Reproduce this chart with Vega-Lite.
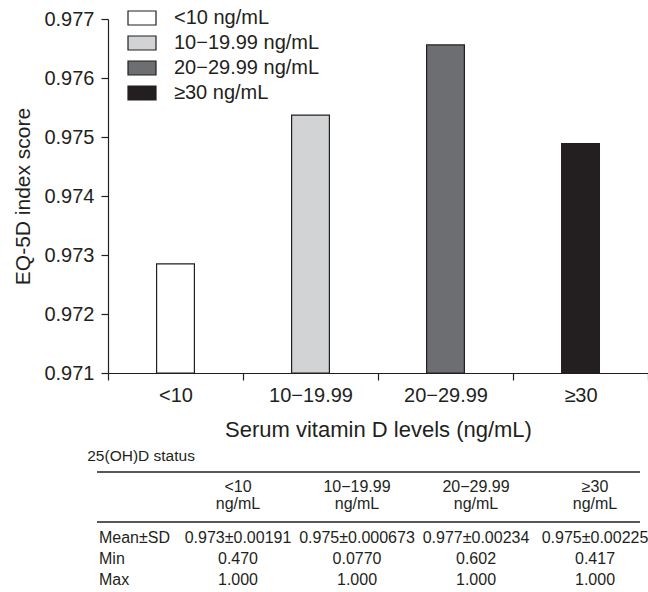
{
  "$schema": "https://vega.github.io/schema/vega-lite/v6.json",
  "padding": {"left": 12, "top": 3, "right": 0, "bottom": 0},
  "config": {
    "font": "Liberation Sans",
    "view": {"stroke": null},
    "axis": {"grid": false, "domainColor": "#231f20", "tickColor": "#231f20", "labelColor": "#231f20", "titleColor": "#231f20", "domainWidth": 1.2, "tickWidth": 1.2, "tickSize": 7, "labelFont": "Liberation Sans", "titleFont": "Liberation Sans", "labelFontSize": 20, "titleFontSize": 21, "titleFontWeight": "normal"},
    "text": {"font": "Liberation Sans", "color": "#231f20"}
  },
  "datasets": {
    "bars": [
      {"group": "<10", "score": 0.97285},
      {"group": "10−19.99", "score": 0.97537},
      {"group": "20−29.99", "score": 0.97656},
      {"group": "≥30", "score": 0.97489}
    ],
    "table": [
      {"stat": "Mean±SD", "group": "<10", "value": "0.973±0.00191"},
      {"stat": "Mean±SD", "group": "10−19.99", "value": "0.975±0.000673"},
      {"stat": "Mean±SD", "group": "20−29.99", "value": "0.977±0.00234"},
      {"stat": "Mean±SD", "group": "≥30", "value": "0.975±0.00225"},
      {"stat": "Min", "group": "<10", "value": "0.470"},
      {"stat": "Min", "group": "10−19.99", "value": "0.0770"},
      {"stat": "Min", "group": "20−29.99", "value": "0.602"},
      {"stat": "Min", "group": "≥30", "value": "0.417"},
      {"stat": "Max", "group": "<10", "value": "1.000"},
      {"stat": "Max", "group": "10−19.99", "value": "1.000"},
      {"stat": "Max", "group": "20−29.99", "value": "1.000"},
      {"stat": "Max", "group": "≥30", "value": "1.000"}
    ],
    "stats": [{"stat": "Mean±SD"}, {"stat": "Min"}, {"stat": "Max"}]
  },
  "spacing": 8,
  "vconcat": [
    {
      "width": 540,
      "height": 354,
      "data": {"name": "bars"},
      "mark": {"type": "bar", "width": {"band": 0.28}, "stroke": "#231f20", "strokeWidth": 1.2},
      "encoding": {
        "x": {
          "field": "group", "type": "nominal", "sort": null,
          "scale": {"domain": ["<10", "10−19.99", "20−29.99", "≥30"], "paddingInner": 0, "paddingOuter": 0},
          "axis": {"title": "Serum vitamin D levels (ng/mL)", "titleFontSize": 22, "labelAngle": 0, "tickBand": "extent", "labelPadding": 5, "titlePadding": 14}
        },
        "y": {
          "field": "score", "type": "quantitative",
          "scale": {"domain": [0.971, 0.977], "zero": false, "nice": false},
          "axis": {"title": "EQ-5D index score", "values": [0.971, 0.972, 0.973, 0.974, 0.975, 0.976, 0.977], "format": ".3f", "labelPadding": 7, "titlePadding": 10}
        },
        "y2": {"datum": 0.971},
        "fill": {
          "field": "group", "type": "nominal", "sort": null,
          "scale": {"domain": ["<10", "10−19.99", "20−29.99", "≥30"], "range": ["#ffffff", "#d1d3d4", "#6d6e71", "#231f20"]},
          "legend": {
            "orient": "none", "legendX": 19, "legendY": -16, "title": null,
            "labelExpr": "datum.label + ' ng/mL'",
            "symbolType": "M-1,-0.5H1V0.5H-1Z", "symbolSize": 784,
            "symbolStrokeColor": "#231f20", "symbolStrokeWidth": 1.2, "symbolOpacity": 1,
            "labelFontSize": 20, "labelFont": "Liberation Sans", "labelColor": "#231f20", "labelOffset": 17,
            "rowPadding": -2, "padding": 0, "offset": 0
          }
        }
      }
    },
    {
      "width": 498,
      "height": 105,
      "title": {"text": "25(OH)D status", "anchor": "start", "fontSize": 15.5, "fontWeight": "normal", "font": "Liberation Sans", "color": "#231f20", "dx": -9, "offset": 7},
      "layer": [
        {
          "data": {"values": [{}]},
          "mark": {"type": "rule", "yOffset": -45, "xOffset": -22, "x2Offset": 45, "strokeWidth": 1.5, "color": "#231f20"},
          "encoding": {
            "x": {"datum": "stat", "type": "nominal", "scale": {"type": "point", "domain": ["stat", "<10", "10−19.99", "20−29.99", "≥30"], "padding": 0.0924}, "axis": null},
            "x2": {"datum": "≥30"},
            "y": {"datum": "header", "type": "nominal", "scale": {"type": "point", "domain": ["header", "Mean±SD", "Min", "Max"], "padding": 1.125, "align": 1}, "axis": null}
          }
        },
        {
          "data": {"values": [{}]},
          "mark": {"type": "rule", "yOffset": 5, "xOffset": -22, "x2Offset": 45, "strokeWidth": 1.5, "color": "#231f20"},
          "encoding": {
            "x": {"datum": "stat", "type": "nominal"},
            "x2": {"datum": "≥30"},
            "y": {"datum": "header", "type": "nominal"}
          }
        },
        {
          "data": {"name": "bars"},
          "mark": {"type": "text", "fontSize": 16, "dy": -30},
          "encoding": {
            "x": {"field": "group", "type": "nominal"},
            "y": {"datum": "header", "type": "nominal"},
            "text": {"field": "group"}
          }
        },
        {
          "data": {"name": "bars"},
          "mark": {"type": "text", "fontSize": 16, "dy": -13, "text": "ng/mL"},
          "encoding": {
            "x": {"field": "group", "type": "nominal"},
            "y": {"datum": "header", "type": "nominal"}
          }
        },
        {
          "data": {"name": "table"},
          "mark": {"type": "text", "fontSize": 16},
          "encoding": {
            "x": {"field": "group", "type": "nominal"},
            "y": {"field": "stat", "type": "nominal"},
            "text": {"field": "value"}
          }
        },
        {
          "data": {"name": "stats"},
          "mark": {"type": "text", "fontSize": 16, "align": "left", "dx": -20},
          "encoding": {
            "x": {"datum": "stat", "type": "nominal"},
            "y": {"field": "stat", "type": "nominal"},
            "text": {"field": "stat"}
          }
        }
      ]
    }
  ]
}
